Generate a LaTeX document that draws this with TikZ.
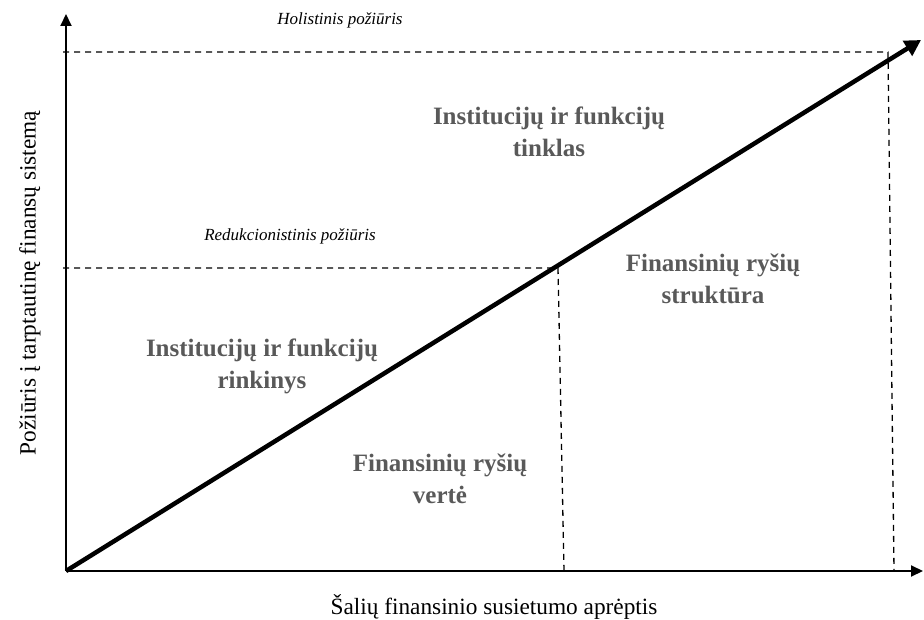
\documentclass[tikz,border=0pt]{standalone}
\usepackage{fontspec}
\setmainfont{Liberation Serif}
\usetikzlibrary{arrows.meta}
\definecolor{labelgray}{RGB}{89,89,89}
\begin{document}
\begin{tikzpicture}[x=1pt,y=-1pt,
  axis/.style={line width=2pt,-{Triangle[length=12pt,width=11pt]}},
  trend/.style={line width=4.5pt,-{Triangle[length=16pt,width=17pt]}},
  guide/.style={line width=1.3pt,dash pattern=on 6pt off 5pt},
  region/.style={font=\fontsize{25}{32}\selectfont\bfseries,text=labelgray,align=center,inner sep=0pt},
  approach/.style={font=\fontsize{17}{19}\selectfont\itshape,inner sep=0pt},
  axislabel/.style={font=\fontsize{23.3}{26}\selectfont,inner sep=0pt}]
\useasboundingbox (0,0) rectangle (924,620);

% key points of the chart
\coordinate (O) at (66,571);
\coordinate (ytop) at (66,14);
\coordinate (xend) at (923,571);
\coordinate (tip) at (921,40);
\coordinate (hl) at (63,52);
\coordinate (hr) at (888,52);
\coordinate (hb) at (894,571);
\coordinate (rl) at (63,268);
\coordinate (rr) at (558,268);
\coordinate (rb) at (564,571);

% guide lines
\draw[guide] (hl) -- (hr) -- (hb);
\draw[guide] (rl) -- (rr) -- (rb);

% axes
\draw[axis] (O) -- (ytop);
\draw[axis] (O) -- (xend);

% growth line
\draw[trend] (O) -- (tip);

% approach labels
\node[approach] (holist) at (340,20) {Holistinis požiūris};
\node[approach] (reduct) at (290,236) {Redukcionistinis požiūris};

% region labels
\node[region] (net) at (549,132) {Institucijų ir funkcijų\\tinklas};
\node[region] (struct) at (713,279) {Finansinių ryšių\\struktūra};
\node[region] (set) at (262,366) {Institucijų ir funkcijų\\rinkinys};
\node[region] (value) at (440,479) {Finansinių ryšių\\vertė};

% axis titles
\node[axislabel,rotate=90] (ylab) at (30,283) {Požiūris į tarptautinę finansų sistemą};
\node[axislabel] (xlab) at (494,607) {Šalių finansinio susietumo aprėptis};
\end{tikzpicture}
\end{document}
